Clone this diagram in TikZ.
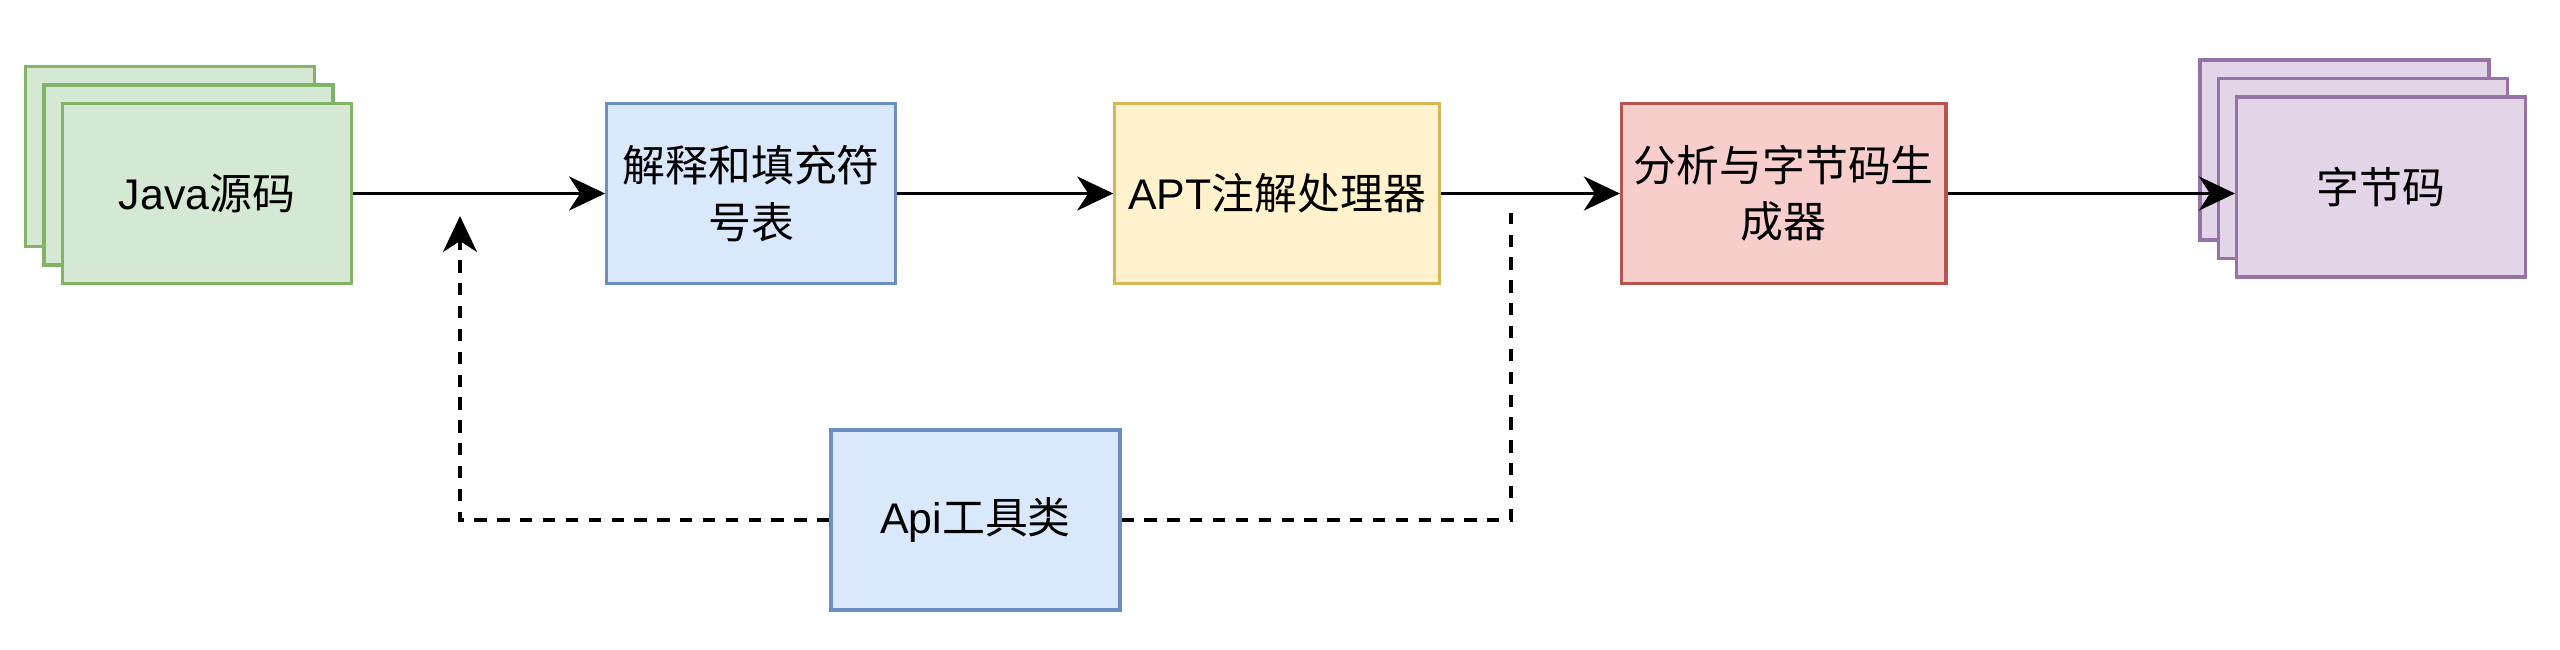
\documentclass[tikz,border=0pt]{standalone}
\usepackage{fontspec}
\setmainfont{Noto Sans CJK SC}
\newfontfamily\latn{Liberation Sans}
\usetikzlibrary{arrows.meta, positioning}

\definecolor{srcfill}{HTML}{D5E8D4}
\definecolor{srcdraw}{HTML}{82B366}
\definecolor{bluefill}{HTML}{DAE8FC}
\definecolor{bluedraw}{HTML}{6C8EBF}
\definecolor{yelfill}{HTML}{FFF2CC}
\definecolor{yeldraw}{HTML}{D6B656}
\definecolor{redfill}{HTML}{F8CECC}
\definecolor{reddraw}{HTML}{B85450}
\definecolor{purfill}{HTML}{E1D5E7}
\definecolor{purdraw}{HTML}{9673A6}

\begin{document}
\begin{tikzpicture}
			\tikzset {>={Stealth[length=0.36cm, width=0.34cm, inset=0.11cm]}, every node/.style={font=\fontsize{12.2}{16}\selectfont, align=center},
				box/.style={rectangle, draw, line width=0.9pt, minimum width=2.89cm, minimum height=1.80cm, inner sep=0pt},
				srcbox/.style={box, fill=srcfill, draw=srcdraw},
				bytebox/.style={box, fill=purfill, draw=purdraw},
				flow/.style={->, line width=1.1pt},
				dashline/.style={line width=1.1pt, dash pattern=on 3.5pt off 3pt} }

			\useasboundingbox (0,0) rectangle (25.6,6.49);

			\node[srcbox]	(java3) at (1.70,4.925)		{};
			\node[srcbox]	(java2) at (1.885,4.74)		{};
			\node[srcbox]	(java)  at (2.07,4.555)		{{\latn Java}源码};
			\node[box, fill=bluefill, draw=bluedraw]	(parse) [right=2.52cm of java]	{解释和填充符\\号表};
			\node[box, fill=yelfill, draw=yeldraw, minimum width=3.245cm]	(apt) [right=2.16cm of parse]	{{\latn APT}注解处理器};
			\node[box, fill=redfill, draw=reddraw, minimum width=3.245cm]	(gen) [right=1.79cm of apt]	{分析与字节码生\\成器};

			\node[bytebox]	(byte3) at (23.445,4.99)	{};
			\node[bytebox]	(byte2) at (23.63,4.805)	{};
			\node[bytebox]	(byte)  at (23.81,4.62)		{字节码};

			\node[box, fill=bluefill, draw=bluedraw]	(api) at (9.755,1.29)	{{\latn Api}工具类};

			\coordinate (upL) at (4.60,4.33);
			\coordinate (upR) at (15.11,4.36);

			\draw[flow] (java) -- (parse);
			\draw[flow] (parse) -- (apt);
			\draw[flow] (apt) -- (gen);
			\draw[flow] (gen.east) -- (gen.east -| byte.west);

			\draw[dashline, ->] (api.west) -| (upL);
			\draw[dashline] (api.east) -| (upR);

		\end{tikzpicture}
\end{document}
